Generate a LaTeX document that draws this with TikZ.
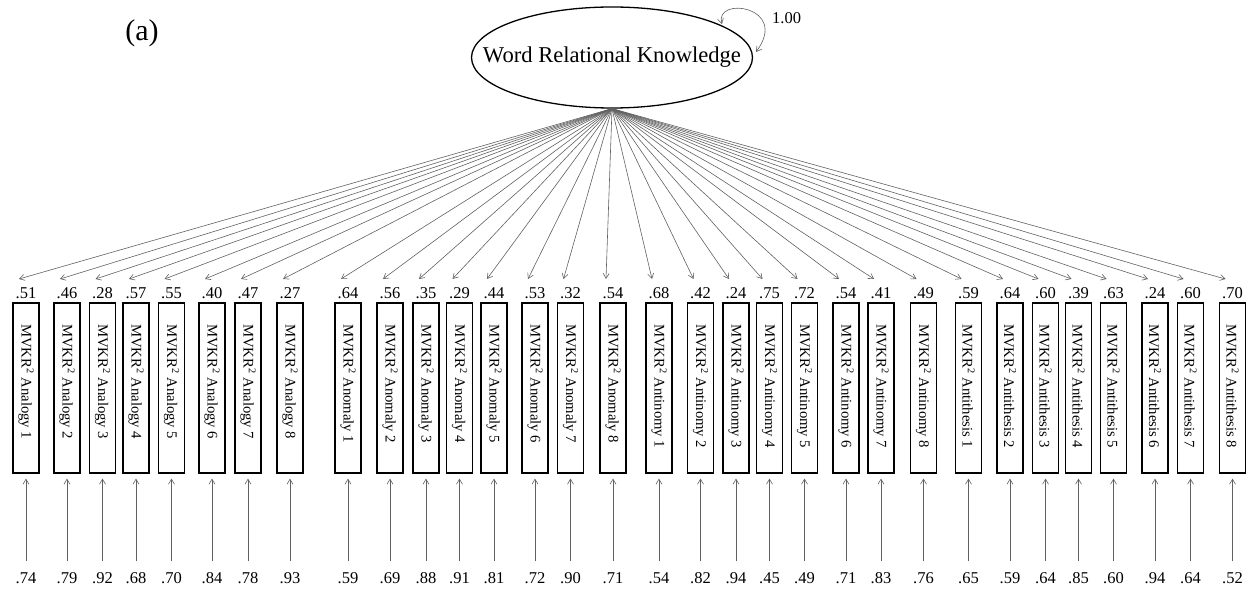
\documentclass[tikz,border=0pt]{standalone}
\usepackage{fontspec}
\setmainfont{Liberation Serif}
\usetikzlibrary{arrows.meta,shapes.geometric}
\begin{document}
\begin{tikzpicture}[x=1pt,y=-1pt,
  barb/.tip={Straight Barb[length=5pt,width=6pt]},
  link/.style={draw=black!62, line width=0.6pt, -barb},
  obs/.style={draw=black, line width=1.3pt, fill=white, minimum width=26pt,
    minimum height=170pt, inner sep=0pt},
  itemtext/.style={rotate=-90, anchor=west, inner sep=0pt,
    font=\fontsize{14.7}{16}\selectfont},
  coef/.style={inner sep=1pt, font=\fontsize{16.5}{18}\selectfont},
  latent/.style={draw=black, line width=1.3pt, ellipse, minimum width=281pt,
    minimum height=101pt, inner sep=0pt},
  latentname/.style={inner sep=0pt, font=\fontsize{22.6}{25}\selectfont}
]
\useasboundingbox (0,0) rectangle (1251,593);

% latent factor
\node[latent] (e) at (612,57.5) {};
\node[latentname] (etext) at (e.center) {Word Relational Knowledge};
\node[font=\fontsize{30}{32}\selectfont] (panel) at (142,33) {(a)};

% variance loop
\coordinate (l1) at (722,24);
\coordinate (l2) at (756,52);
\draw[draw=black!62, line width=0.6pt, barb-barb] (l1) .. controls (714,-4) and (790,6) .. (l2);
\node[coef, anchor=west] (var) at (771,18) {1.00};

% indicators, loadings and residual variances
\foreach \i/\cx/\lab/\up/\dn in {
  1/26/Analogy 1/.51/.74, 2/67/Analogy 2/.46/.79, 3/102.5/Analogy 3/.28/.92,
  4/136/Analogy 4/.57/.68, 5/171.5/Analogy 5/.55/.70, 6/212/Analogy 6/.40/.84,
  7/248/Analogy 7/.47/.78, 8/290/Analogy 8/.27/.93,
  9/348/Anomaly 1/.64/.59, 10/390/Anomaly 2/.56/.69, 11/426/Anomaly 3/.35/.88,
  12/459.5/Anomaly 4/.29/.91, 13/494/Anomaly 5/.44/.81, 14/535/Anomaly 6/.53/.72,
  15/570.5/Anomaly 7/.32/.90, 16/613/Anomaly 8/.54/.71,
  17/659/Antinomy 1/.68/.54, 18/700.5/Antinomy 2/.42/.82, 19/736/Antinomy 3/.24/.94,
  20/769.5/Antinomy 4/.75/.45, 21/804.5/Antinomy 5/.72/.49, 22/846/Antinomy 6/.54/.71,
  23/881/Antinomy 7/.41/.83, 24/923.5/Antinomy 8/.49/.76,
  25/968.5/Antithesis 1/.59/.65, 26/1010/Antithesis 2/.64/.59, 27/1045.5/Antithesis 3/.60/.64,
  28/1078.5/Antithesis 4/.39/.85, 29/1113.5/Antithesis 5/.63/.60, 30/1155/Antithesis 6/.24/.94,
  31/1190.5/Antithesis 7/.60/.64, 32/1232.5/Antithesis 8/.70/.52} {
  \node[obs] (b\i) at (\cx,388) {};
  \node[itemtext] (n\i) at (\cx,324) {MVKR\textsuperscript{2} \lab};
  \node[coef] (t\i) at (\cx,293) {\up};
  \node[coef] (u\i) at (\cx,578) {\dn};
  \coordinate (a\i) at (\cx-7,279);
  \coordinate (s\i) at (\cx,561);
  \draw[link] (e.south) -- (a\i);
  \draw[link, shorten >=5pt] (s\i) -- (b\i.south);
}
\end{tikzpicture}
\end{document}
